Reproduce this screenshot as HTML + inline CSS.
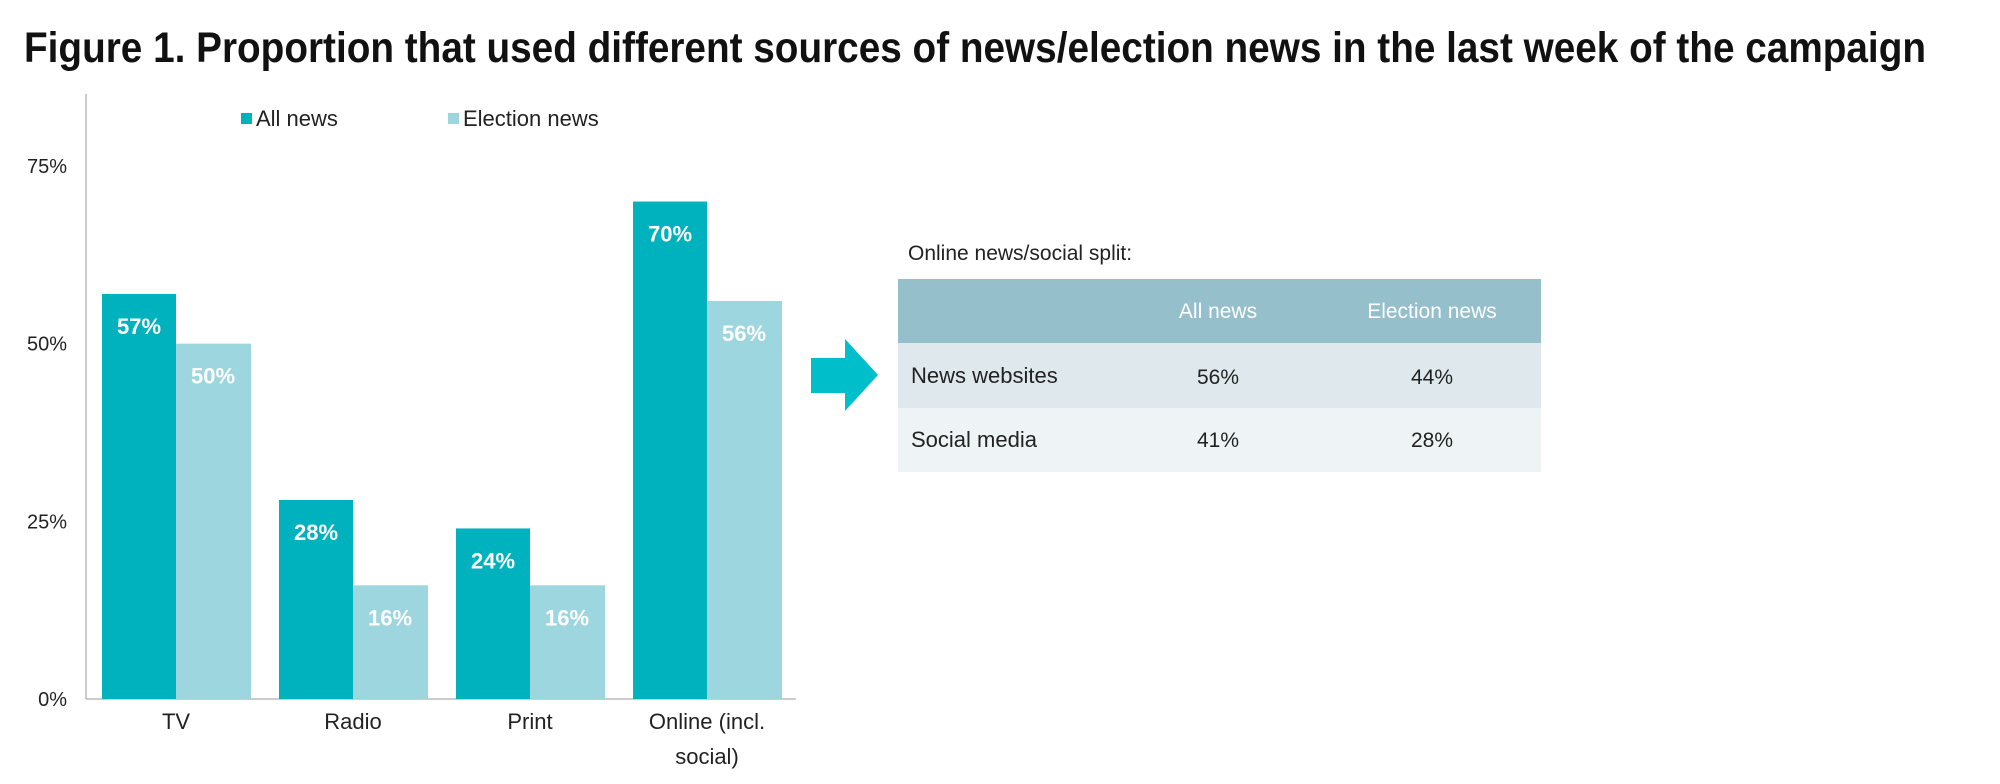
<!DOCTYPE html>
<html><head><meta charset="utf-8"><style>
html,body{margin:0;padding:0;background:#fff;}
svg{display:block;font-family:"Liberation Sans",sans-serif;}
</style></head><body>
<svg id="chart" width="2000" height="784" viewBox="0 0 2000 784" xmlns="http://www.w3.org/2000/svg">
<text x="24" y="62" font-size="43" font-weight="bold" fill="#111" textLength="1902" lengthAdjust="spacingAndGlyphs">Figure 1. Proportion that used different sources of news/election news in the last week of the campaign</text>
<g id="plot"></g>
<g>
<rect x="241" y="113" width="11" height="11" fill="#00b2bd"/>
<text x="256" y="126" font-size="22" fill="#222">All news</text>
<rect x="448" y="113" width="11" height="11" fill="#9dd6de"/>
<text x="463" y="126" font-size="22" fill="#222">Election news</text>
</g>
<polygon points="811,358 845,358 845,339 878,375 845,411 845,393 811,393" fill="#00bfca"/>
<text x="908" y="260" font-size="21" fill="#222">Online news/social split:</text>
<g>
<rect x="898" y="279" width="643" height="64" fill="#95bfcb"/>
<text x="1218" y="318" font-size="21" fill="#fff" text-anchor="middle">All news</text>
<text x="1432" y="318" font-size="21" fill="#fff" text-anchor="middle">Election news</text>
<rect x="898" y="343" width="643" height="65" fill="#dfe8ec"/>
<text x="911" y="383" font-size="22" fill="#222">News websites</text>
<text x="1218" y="384" font-size="21" fill="#222" text-anchor="middle">56%</text>
<text x="1432" y="384" font-size="21" fill="#222" text-anchor="middle">44%</text>
<rect x="898" y="408" width="643" height="64" fill="#eef3f5"/>
<text x="911" y="447" font-size="22" fill="#222">Social media</text>
<text x="1218" y="447" font-size="21" fill="#222" text-anchor="middle">41%</text>
<text x="1432" y="447" font-size="21" fill="#222" text-anchor="middle">28%</text>
</g>
</svg>
<script>
const categories = ["TV", "Radio", "Print", "Online (incl.|social)"];
const allNews = [57, 28, 24, 70];
const electionNews = [50, 16, 16, 56];
const yTicks = [0, 25, 50, 75];

const NS = "http://www.w3.org/2000/svg";
const g = document.getElementById("plot");
const y0 = 699, yPerPct = (699 - 166) / 75;
const y = v => y0 - v * yPerPct;
const groupX = i => 102 + i * 177;
const barW = 74;
function mk(tag, attrs, text) {
  const e = document.createElementNS(NS, tag);
  for (const k in attrs) e.setAttribute(k, attrs[k]);
  if (text !== undefined) e.textContent = text;
  g.appendChild(e);
  return e;
}
let e;
e = mk("line", {x1: 86, y1: 94, x2: 86, y2: y0, stroke: "#bbb", "stroke-width": 1.5});


e = mk("line", {x1: 86, y1: y0, x2: 796, y2: y0, stroke: "#bbb", "stroke-width": 1.5});


yTicks.forEach(t => {
  e = mk("text", {x: 67, y: y(t) + 7, "font-size": 20, fill: "#222", "text-anchor": "end"}, t + "%");
  
  
});
categories.forEach((c, i) => {
  const x = groupX(i);
  e = mk("rect", {x: x, y: y(allNews[i]), width: barW, height: y0 - y(allNews[i]), fill: "#00b2bd"});
  
  
  e = mk("rect", {x: x + barW, y: y(electionNews[i]), width: barW + 1, height: y0 - y(electionNews[i]), fill: "#9dd6de"});
  
  
  e = mk("text", {x: x + barW / 2, y: y(allNews[i]) + 40, "font-size": 22, "font-weight": "bold", fill: "#fff", "text-anchor": "middle"}, allNews[i] + "%");
  
  
  e = mk("text", {x: x + barW * 1.5, y: y(electionNews[i]) + 40, "font-size": 22, "font-weight": "bold", fill: "#fff", "text-anchor": "middle"}, electionNews[i] + "%");
  
  
  c.split("|").forEach((line, j) => {
    e = mk("text", {x: x + barW, y: 729 + j * 35, "font-size": 22, fill: "#222", "text-anchor": "middle"}, line);
    
    
  });
});
</script>
</body></html>
